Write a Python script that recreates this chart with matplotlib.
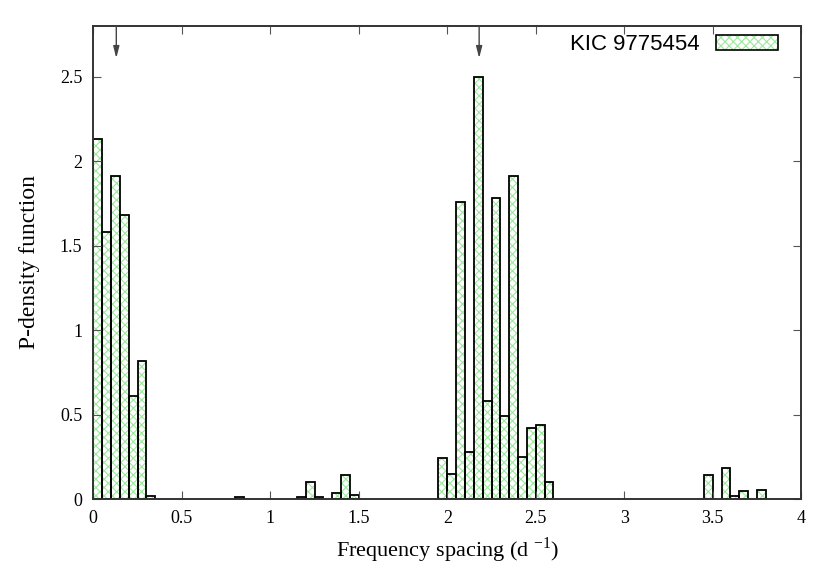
import numpy as np
import matplotlib
matplotlib.use("Agg")
import matplotlib.pyplot as plt
from matplotlib.patches import Patch
from matplotlib.legend_handler import HandlerTuple

# left edges of 0.05-wide bins and the density
bin_left = [0.00, 0.05, 0.10, 0.15, 0.20, 0.25, 0.30,
            0.80,
            1.15, 1.20, 1.25, 1.35, 1.40, 1.45,
            1.95, 2.00, 2.05, 2.10, 2.15, 2.20, 2.25, 2.30, 2.35, 2.40, 2.45, 2.50, 2.55,
            3.45, 3.55, 3.60, 3.65, 3.75]
density = [2.13, 1.58, 1.91, 1.68, 0.61, 0.82, 0.02,
           0.012,
           0.01, 0.10, 0.01, 0.034, 0.142, 0.024,
           0.24, 0.15, 1.76, 0.28, 2.50, 0.58, 1.78, 0.49, 1.91, 0.25, 0.42, 0.44, 0.10,
           0.144, 0.185, 0.02, 0.045, 0.055]
bin_width = 0.05

arrow_x = [0.13, 2.18]

x_ticks = [0, 0.5, 1, 1.5, 2, 2.5, 3, 3.5, 4]
x_labels = ["0", "0.5", "1", "1.5", "2", "2.5", "3", "3.5", "4"]
y_ticks = [0, 0.5, 1, 1.5, 2, 2.5]
y_labels = ["0", "0.5", "1", "1.5", "2", "2.5"]

plt.rcParams["font.family"] = ["Liberation Serif", "DejaVu Serif"]
plt.rcParams["mathtext.fontset"] = "custom"
plt.rcParams["mathtext.rm"] = "Liberation Serif"
plt.rcParams["hatch.linewidth"] = 0.8

hatch_green = "#9ee89e"

fig = plt.figure(figsize=(8.3, 5.81), dpi=100)
ax = fig.add_axes([0.1124, 0.1411, 0.8530, 0.8141])

# hatched fill first, then the black outlines on top
ax.bar(bin_left, density, width=bin_width, align="edge",
       facecolor="white", edgecolor=hatch_green, hatch="xxxx", linewidth=0)
ax.bar(bin_left, density, width=bin_width, align="edge",
       fill=False, edgecolor="black", linewidth=1.3)

for xa in arrow_x:
    ax.annotate("", xy=(xa, 2.61), xytext=(xa, 2.80),
                arrowprops=dict(arrowstyle="-|>,head_length=0.7,head_width=0.18",
                                color="#444444", lw=1.0, shrinkA=0, shrinkB=0))

ax.set_xlim(0, 4)
ax.set_ylim(0, 2.8)
ax.set_xticks(x_ticks)
ax.set_xticklabels(x_labels)
ax.set_yticks(y_ticks)
ax.set_yticklabels(y_labels)
ax.tick_params(direction="in", top=True, right=True, length=6, width=0.8,
               color="#555555", labelsize=13, pad=8)
for s in ax.spines.values():
    s.set_linewidth(1.4)
    s.set_color("#333333")

ax.set_xlabel(r"Frequency spacing (d $^{\mathrm{-1}}$)", fontsize=16, labelpad=6)
ax.set_ylabel("P-density function", fontsize=17, labelpad=14)

h_fill = Patch(facecolor="white", edgecolor=hatch_green, hatch="xxxx", linewidth=0)
h_edge = Patch(fill=False, edgecolor="black", linewidth=1.2)
ax.legend(handles=[(h_fill, h_edge)], labels=["KIC 9775454"],
          handler_map={tuple: HandlerTuple(ndivide=1)},
          loc="upper right", bbox_to_anchor=(0.995, 1.025), frameon=False,
          markerfirst=False, handlelength=2.8, handleheight=0.7,
          handletextpad=0.7,
          prop={"family": "Liberation Sans", "size": 16})

fig.savefig("out.png", dpi=100)
